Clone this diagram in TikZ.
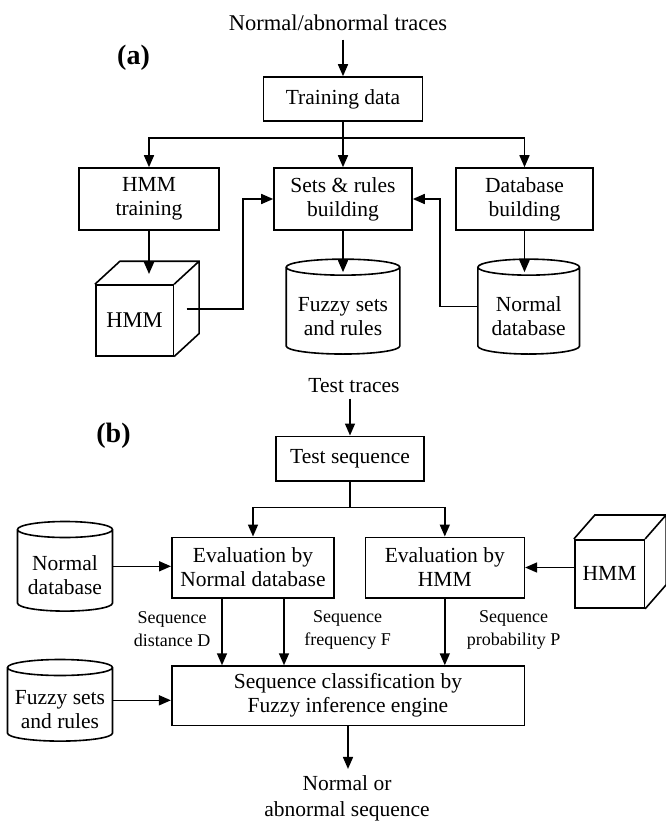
\documentclass[tikz,border=0pt]{standalone}
\usepackage{fontspec}
\setmainfont{Liberation Serif}
\usetikzlibrary{arrows.meta,calc}
\newcommand\mainfnt{\fontsize{21.5}{24}\selectfont}
\newcommand\titlefnt{\fontsize{22.5}{25}\selectfont}
\newcommand\lblfnt{\fontsize{18}{23}\selectfont}
\newcommand\tagfnt{\fontsize{28}{30}\bfseries\selectfont}
% cylinder outline around a node: #1 name, #2 half-height of the ellipse
\newcommand\drawcyl[2]{%
  \draw let \p1=(#1.north west), \p2=(#1.south east), \p3=($(\p2)-(\p1)$) in
    (\x1,\y1-#2) -- (\x1,\y2+#2) arc[start angle=180,end angle=360,x radius=0.5*\x3,y radius=#2]
    -- (\x2,\y1-#2)
    ($(\x1,\y1-#2)+(0.5*\x3,0)$) ellipse[x radius=0.5*\x3,y radius=#2];}
% cube faces behind a front-face node: #1 name, #2 dx, #3 dy
\newcommand\drawcube[3]{%
  \draw (#1.north west) -- ([shift={(#2,#3)}]#1.north west) -- ([shift={(#2,#3)}]#1.north east)
    -- ([shift={(#2,#3)}]#1.south east) -- (#1.south east)
    (#1.north east) -- ([shift={(#2,#3)}]#1.north east);}
\begin{document}
\begin{tikzpicture}[x=1pt,y=-1pt,line width=1.6pt,line join=miter,
  box/.style={draw,rectangle,inner sep=0pt,align=center,font=\mainfnt},
  cyl/.style={rectangle,inner sep=0pt},
  cyltext/.style={align=center,font=\mainfnt,inner sep=0pt},
  lbl/.style={align=center,font=\lblfnt,inner sep=0pt},
  plain/.style={align=center,font=\mainfnt,inner sep=0pt},
  arr/.style={-{Triangle[length=12pt,width=10pt]}}]
\useasboundingbox (0,0) rectangle (665,821);

% ---------------- (a) ----------------
\node[font=\tagfnt,inner sep=0pt] (taga) at (133.5,58) {(a)};
\node[plain,font=\titlefnt] (title) at (338,23) {Normal/abnormal traces};
\node[box,minimum width=159pt,minimum height=44pt] (train) at (343,99) {Training data};
\node[box,minimum width=140pt,minimum height=62pt] (hmmtrain) at (149,199) {HMM\\training};
\node[box,minimum width=138pt,minimum height=62pt] (sets) at (343,199) {Sets \& rules\\building};
\node[box,minimum width=137pt,minimum height=62pt] (dbbuild) at (524.5,199) {Database\\building};
\node[box,minimum width=77.6pt,minimum height=70.7pt,font=\titlefnt] (cubeA) at (134.5,320.4) {HMM};
\drawcube{cubeA}{25pt}{23pt}
\node[cyl,minimum width=112pt,minimum height=93.3pt] (fzA) at (343,306.6) {};
\drawcyl{fzA}{8pt}
\node[cyltext] (fzAt) at (343,316.5) {Fuzzy sets\\and rules};
\node[cyl,minimum width=100pt,minimum height=93.3pt] (ndbA) at (528.7,306.6) {};
\drawcyl{ndbA}{8pt}
\node[cyltext] (ndbAt) at (528.7,316.5) {Normal\\database};

\coordinate (splitA) at ([yshift=-16pt]train.south);
\coordinate (cubeAtop) at (149,274);
\coordinate (cubeAR) at ([shift={(12.5pt,11.5pt)}]cubeA.east);
\coordinate (fzAtop) at ([yshift=-13pt]fzA.north);
\coordinate (ndbAtop) at ([yshift=-13pt]ndbA.north);

\draw[arr,shorten <=8pt] (title.south -| train.north) -- (train.north);
\draw[arr] (train.south) -- (sets.north);
\draw[arr] (splitA) -| (hmmtrain.north);
\draw[arr] (splitA) -| (dbbuild.north);
\draw[arr] (hmmtrain.south) -- (hmmtrain.south |- cubeAtop);
\draw[arr] (sets.south) -- (sets.south |- fzAtop);
\draw[arr] (dbbuild.south) -- (dbbuild.south |- ndbAtop);
\draw[arr] (cubeAR) -| ([xshift=-30pt]sets.west) -- (sets.west);
\draw[arr] (ndbA.west) -| ([xshift=27pt]sets.east) -- (sets.east);

% ---------------- (b) ----------------
\node[font=\tagfnt,inner sep=0pt] (tagb) at (113.5,435.7) {(b)};
\node[plain] (testtr) at (354,385.7) {Test traces};
\node[box,minimum width=147.7pt,minimum height=44.4pt] (testseq) at (350,458.5) {Test sequence};
\node[box,minimum width=162.3pt,minimum height=60.4pt] (evalN) at (253,567.5) {Evaluation by\\Normal database};
\node[box,minimum width=159pt,minimum height=60.4pt] (evalH) at (444.8,567.5) {Evaluation by\\HMM};
\node[cyl,minimum width=93.4pt,minimum height=88pt] (ndbB) at (65,566.3) {};
\drawcyl{ndbB}{8pt}
\node[cyltext] (ndbBt) at (65,575.5) {Normal\\database};
\node[box,minimum width=69.6pt,minimum height=68.3pt] (cubeB) at (609.5,573.9) {HMM};
\drawcube{cubeB}{21pt}{24pt}
\node[box,minimum width=352.6pt,minimum height=59.3pt] (seqc) at (348,695.7) {Sequence classification by\\Fuzzy inference engine};
\node[cyl,minimum width=103.4pt,minimum height=80pt] (fzB) at (60,700.3) {};
\drawcyl{fzB}{8pt}
\node[cyltext] (fzBt) at (60,710) {Fuzzy sets\\and rules};
\node[lbl] (lblD) at (172,629.5) {Sequence\\distance D};
\node[lbl] (lblF) at (347.7,629.5) {Sequence\\frequency F};
\node[lbl] (lblP) at (513.7,629.5) {Sequence\\probability P};
\node[plain,font=\fontsize{21.5}{26}\selectfont] (out) at (347,798.5) {Normal or\\abnormal sequence};

\coordinate (splitB) at ([yshift=-26pt]testseq.south);

\draw[arr,shorten <=5pt] (testtr.south -| testseq.north) -- (testseq.north);
\draw (testseq.south) -- (splitB);
\draw[arr] (splitB) -| (evalN.north);
\draw[arr] (splitB) -| (evalH.north);
\draw[arr] (ndbB.east) -- (ndbB.east -| evalN.west);
\draw[arr] (cubeB.west |- evalH.east) -- (evalH.east);
\draw[arr] ([xshift=-31pt]evalN.south) -- ([xshift=-31pt]evalN.south |- seqc.north);
\draw[arr] ([xshift=31pt]evalN.south) -- ([xshift=31pt]evalN.south |- seqc.north);
\draw[arr] (evalH.south) -- (evalH.south |- seqc.north);
\draw[arr] (fzB.east) -- (fzB.east -| seqc.west);
\draw[arr,shorten >=6pt] (seqc.south) -- (seqc.south |- out.north);
\end{tikzpicture}
\end{document}
